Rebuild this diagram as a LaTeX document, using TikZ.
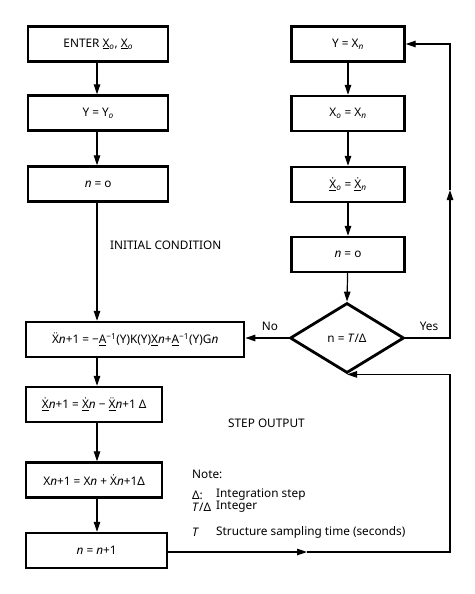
\documentclass[tikz,border=0pt]{standalone}
\usepackage{fontspec}
\setmainfont{Noto Sans}
\usetikzlibrary{shapes.geometric,arrows.meta}
\newcommand{\Ud}[1]{\underline{\.{#1}}}
\newcommand{\Udd}[1]{\underline{\"{#1}}}
\newcommand{\itn}{\textit{n}}
\newcommand{\Dl}{\textbf{Δ}}
\begin{document}
\begin{tikzpicture}[x=1pt,y=-1pt,
  every node/.style={font=\fontsize{11.8}{13}\selectfont},
  box/.style={draw, line width=2.4pt, minimum height=35pt, inner sep=2pt, anchor=west},
  rbox/.style={draw, line width=2.4pt, minimum height=35pt, minimum width=113pt, inner sep=2pt},
  dec/.style={draw, diamond, line width=2.8pt, minimum width=114pt, minimum height=70pt, inner sep=0pt, aspect=1.63},
  arr/.style={-{Triangle[length=10pt,width=6.5pt]}, line width=1.2pt},
  lbl/.style={inner sep=0pt}]
\useasboundingbox (0,0) rectangle (474,594);
% left column
\node[box, minimum width=140pt] (enter) at (27,44) {ENTER \underline{X}\textsubscript{\textit{o}}, \underline{X}\textsubscript{\textit{o}}};
\node[box, minimum width=140pt] (yy0) at (27,113) {Y = Y\textsubscript{\textit{o}}};
\node[box, minimum width=140pt] (n0) at (27,184) {\itn{} = o};
\node[box, minimum width=218pt] (big) at (25,339.5) {\"{X}\itn+1 = \textminus\underline{A}\textsuperscript{\textminus1}(Y)K(Y)\underline{X}\itn+\underline{A}\textsuperscript{\textminus1}(Y)G\itn};
\node[box, minimum width=136pt] (xd) at (25,404.5) {\Ud{X}\itn+1 = \Ud{X}\itn{} \textminus{} \Udd{X}\itn+1 \Dl};
\node[box, minimum width=136pt] (xx) at (25,480) {X\itn+1 = X\itn{} + \.{X}\itn+1\Dl};
\node[box, minimum width=141pt] (nn) at (25,550.5) {\itn{} = \itn+1};
\coordinate (lc) at (97,0);
% right column
\node[rbox] (ryx) at (348,44) {Y = X\textsubscript{\textit{n}}};
\node[rbox] (rx0) at (348,113.5) {X\textsubscript{\textit{o}} = X\textsubscript{\textit{n}}};
\node[rbox] (rxd) at (348,184.5) {\Ud{X}\textsubscript{\textit{o}} = \Ud{X}\textsubscript{\textit{n}}};
\node[rbox] (rn0) at (348,254.5) {\itn{} = o};
\node[dec] (dia) at (347,338) {n = \textit{T}/\Dl};
\coordinate (rx) at (450,0);
\coordinate (upmid) at (450,190);
\coordinate (botmid) at (307,552);
% left connectors
\draw[arr] (enter.south -| lc) -- (yy0.north -| lc);
\draw[arr] (yy0.south -| lc) -- (n0.north -| lc);
\draw[arr] (n0.south -| lc) -- (big.north -| lc);
\draw[arr] (big.south -| lc) -- (xd.north -| lc);
\draw[arr] (xd.south -| lc) -- (xx.north -| lc);
\draw[arr] (xx.south -| lc) -- (nn.north -| lc);
% right connectors
\draw[arr] (ryx) -- (rx0);
\draw[arr] (rx0) -- (rxd);
\draw[arr] (rxd) -- (rn0);
\draw[arr] (rn0) -- (dia.north);
\draw[arr] (dia.west) -- (big.east |- dia.west);
\draw[arr] (dia.east) -- (dia.east -| rx) -- (upmid);
\draw[arr] (upmid) -- (ryx.east -| rx) -- (ryx.east);
\draw[arr] (nn.east |- botmid) -- (botmid);
\draw[arr] (botmid) -- (botmid -| rx) -- (rx |- dia.south) -- (dia.south);
% labels
\node[lbl] (no) at (270,326) {No};
\node[lbl] (yes) at (429,326) {Yes};
\node[lbl, anchor=west] (ic) at (110,245) {INITIAL CONDITION};
\node[lbl, anchor=west] (so) at (228,423) {STEP OUTPUT};
\node[lbl, anchor=west] (note) at (192,474) {Note:};
\node[lbl, anchor=west] (n1a) at (192,495) {\Dl:};
\node[lbl, anchor=west] (n1b) at (216,495) {Integration step};
\node[lbl, anchor=west] (n2a) at (192,507) {\textit{T}/\Dl};
\node[lbl, anchor=west] (n2b) at (216,507) {Integer};
\node[lbl, anchor=west] (n3a) at (192,532) {\textit{T}};
\node[lbl, anchor=west] (n3b) at (216,532) {Structure sampling time (seconds)};
\end{tikzpicture}
\end{document}
